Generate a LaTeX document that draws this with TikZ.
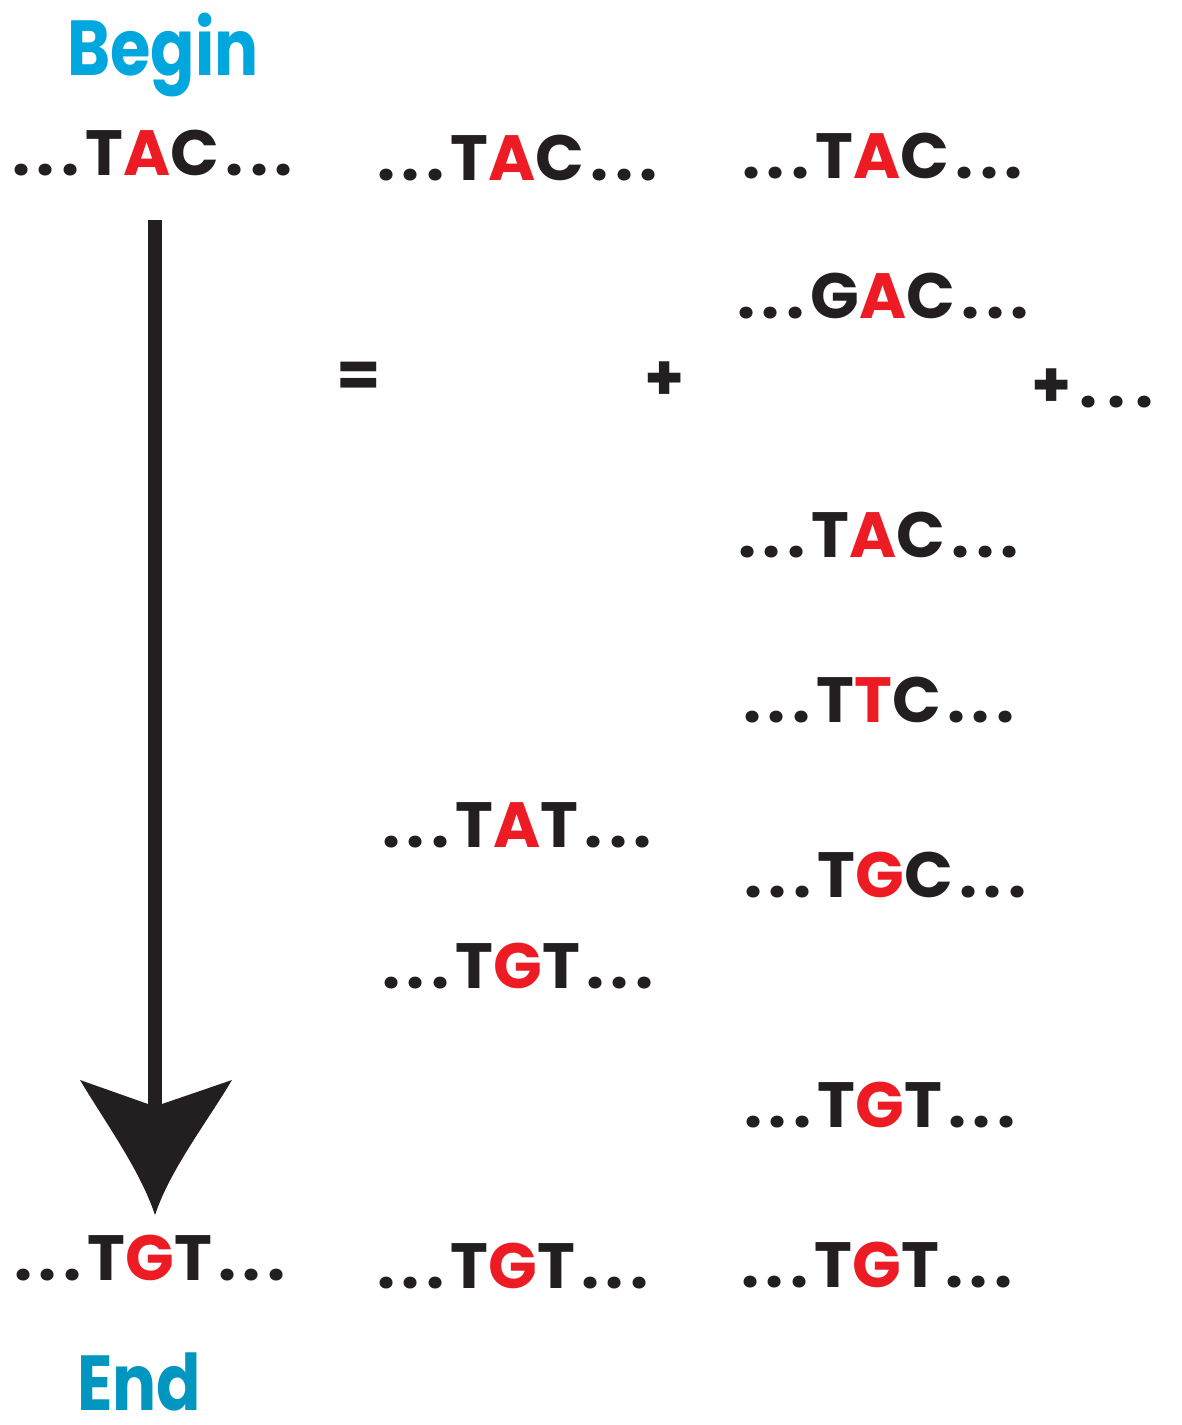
\documentclass[tikz,border=0pt]{standalone}
\usepackage{fontspec}
\setmainfont{Poppins}
\newfontfamily\seqfont{Poppins}[LetterSpace=10]
\definecolor{ink}{RGB}{35,31,32}
\definecolor{dnared}{RGB}{237,28,36}
\definecolor{beginblue}{RGB}{0,166,222}
\definecolor{endblue}{RGB}{0,150,192}
\newcommand\R[1]{\textcolor{dnared}{#1}}
\begin{document}
\begin{tikzpicture}[x=1pt,y=-1pt,
  seq/.style={anchor=base west,inner sep=0pt,text=ink,font=\seqfont\bfseries\fontsize{64}{70}\selectfont},
  op/.style={anchor=base west,inner sep=0pt,text=ink,font=\seqfont\bfseries\fontsize{64}{70}\selectfont},
  title/.style={anchor=base west,inner sep=0pt,text depth=0pt,xscale=0.84,font=\bfseries\fontsize{78}{88}\selectfont}]
\useasboundingbox (0,0) rectangle (1182,1425);
% titles
\node[title,text=beginblue] (begin) at (67,75) {Begin};
\node[title,text=endblue] (end) at (77,1410) {End};
% column 1
\node[seq] (c1top) at (12,175) {...T\R{A}C...};
\node[seq] (c1bot) at (14,1280) {...T\R{G}T...};
% column 2
\node[seq] (c2top) at (377,180) {...T\R{A}C...};
\node[seq] (c2tat) at (382,847) {...T\R{A}T...};
\node[seq] (c2tgt) at (382,988) {...T\R{G}T...};
\node[seq] (c2bot) at (377,1288) {...T\R{G}T...};
% column 3
\node[seq] (c3top) at (742,178) {...T\R{A}C...};
\node[seq] (c3gac) at (737,318) {...G\R{A}C...};
\node[seq] (c3tac) at (738,557) {...T\R{A}C...};
\node[seq] (c3ttc) at (743,722) {...T\R{T}C...};
\node[seq] (c3tgc) at (744,897) {...T\R{G}C...};
\node[seq] (c3tgt) at (744,1127) {...T\R{G}T...};
\node[seq] (c3bot) at (741,1287) {...T\R{G}T...};
% operators
\node[op] (eq) at (336,397) {=};
\node[op] (plus1) at (644,400) {+};
\node[op] (plus2) at (1031,407) {+\hspace{8pt}.\hspace{10pt}.\hspace{10pt}.};
% arrow
\coordinate (shafttop) at (155,220);
\coordinate (tip) at (155,1215);
\fill[ink] (148,220) rectangle (162,1106);
\fill[ink] (80,1080) -- (148,1104) -- (162,1104) -- (232,1080)
  .. controls (205,1125) and (170,1170) .. (tip)
  .. controls (140,1170) and (107,1125) .. (80,1080) -- cycle;
\end{tikzpicture}
\end{document}
